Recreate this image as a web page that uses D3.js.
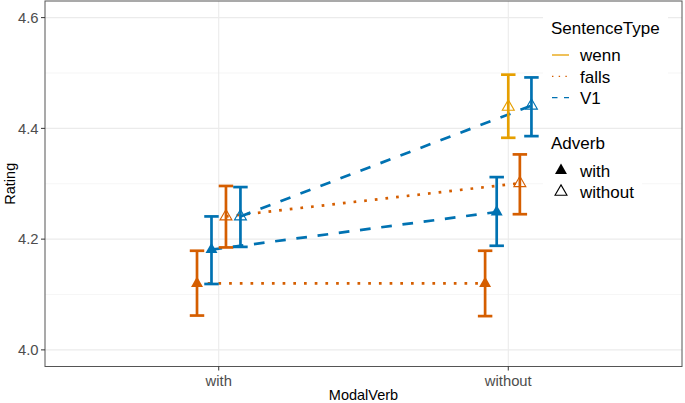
<!DOCTYPE html>
<html>
<head>
<meta charset="utf-8">
<script src="https://cdn.jsdelivr.net/npm/d3@7"></script>
<style>
body{margin:0;background:#fff}
svg{font-family:"Liberation Sans",Arial,Helvetica,sans-serif;display:block}
</style>
</head>
<body>
<div id="chart"></div>
<script>
const modalVerbs = ["with", "without"]
const sentenceTypes = ["wenn", "falls", "V1"]
const adverbs = ["with", "without"]

// one entry per cell that has data (wenn only exists for without/without)
const cellModal  = ["with", "with", "with", "with", "without", "without", "without", "without", "without"]
const cellType   = ["falls", "V1", "falls", "V1", "falls", "V1", "wenn", "falls", "V1"]
const cellAdverb = ["with", "with", "without", "without", "with", "with", "without", "without", "without"]
const meanRating = [4.120, 4.181, 4.241, 4.241, 4.120, 4.249, 4.439, 4.301, 4.441]
const lowerCI    = [4.062, 4.119, 4.185, 4.186, 4.061, 4.188, 4.383, 4.245, 4.386]
const upperCI    = [4.179, 4.241, 4.296, 4.294, 4.179, 4.312, 4.497, 4.353, 4.492]

const yTicks = [4.0, 4.2, 4.4, 4.6]
const yMinor = [4.1, 4.3, 4.5]
const yLimits = [4.0, 4.6]

const typeColors = ["#E69F00", "#D55E00", "#0072B2"]
const typeDash = [null, "2.7,8", "10.7,10.7"]
const typeDashKey = [null, "1.4,5.3", "5.5,6.5"]

const width = 685, height = 403
const panel = {left: 45, right: 682, top: 1, bottom: 366.5}

const rows = cellModal.map((m, i) => ({
    modal: m, type: cellType[i], adverb: cellAdverb[i],
    mean: meanRating[i], lo: lowerCI[i], hi: upperCI[i]
}))

const svg = d3.select("#chart").append("svg")
    .attr("width", width).attr("height", height)

const x = d3.scalePoint().domain(modalVerbs)
    .range([panel.left, panel.right]).padding(0.6)

const pad = (yLimits[1] - yLimits[0]) * 0.05
const y = d3.scaleLinear().domain([yLimits[0] - pad, yLimits[1] + pad])
    .range([panel.bottom, panel.top])

const color = d3.scaleOrdinal(sentenceTypes, typeColors)

// position_dodge(width = 0.2): groups ordered by Adverb then SentenceType
const dodgeWidth = 0.2
modalVerbs.forEach(m => {
    const g = rows.filter(d => d.modal === m)
        .sort((a, b) => adverbs.indexOf(a.adverb) - adverbs.indexOf(b.adverb) ||
                        sentenceTypes.indexOf(a.type) - sentenceTypes.indexOf(b.type))
    const n = g.length
    g.forEach((d, i) => { d.px = x(m) + (i - (n - 1) / 2) * (dodgeWidth / n) * x.step() })
})

// grid
const grid = svg.append("g")
grid.selectAll(".minor").data(yMinor).join("line")
    .attr("x1", panel.left).attr("x2", panel.right)
    .attr("y1", d => y(d)).attr("y2", d => y(d))
    .attr("stroke", "#F0F0F0").attr("stroke-width", 0.6)
grid.selectAll(".major").data(yTicks).join("line")
    .attr("x1", panel.left).attr("x2", panel.right)
    .attr("y1", d => y(d)).attr("y2", d => y(d))
    .attr("stroke", "#EBEBEB").attr("stroke-width", 1.1)
grid.selectAll(".vmajor").data(modalVerbs).join("line")
    .attr("x1", d => x(d)).attr("x2", d => x(d))
    .attr("y1", panel.top).attr("y2", panel.bottom)
    .attr("stroke", "#EBEBEB").attr("stroke-width", 1.1)

// lines between modal verb levels
const lineGroups = d3.groups(rows, d => d.type + "|" + d.adverb)
    .map(([k, v]) => v.sort((a, b) => modalVerbs.indexOf(a.modal) - modalVerbs.indexOf(b.modal)))
    .filter(v => v.length > 1)
svg.append("g").attr("fill", "none")
  .selectAll("path").data(lineGroups).join("path")
    .attr("d", d3.line().x(d => d.px).y(d => y(d.mean)))
    .attr("stroke", v => color(v[0].type))
    .attr("stroke-width", 2.7)
    .attr("stroke-dasharray", v => typeDash[sentenceTypes.indexOf(v[0].type)])

// error bars
const capHalf = 0.025 * x.step()
const eb = svg.append("g").selectAll("g").data(rows).join("g")
    .attr("stroke", d => color(d.type)).attr("stroke-width", 2.7)
eb.append("line")
    .attr("x1", d => d.px).attr("x2", d => d.px)
    .attr("y1", d => y(d.lo)).attr("y2", d => y(d.hi))
eb.append("line")
    .attr("x1", d => d.px - capHalf).attr("x2", d => d.px + capHalf)
    .attr("y1", d => y(d.hi)).attr("y2", d => y(d.hi))
eb.append("line")
    .attr("x1", d => d.px - capHalf).attr("x2", d => d.px + capHalf)
    .attr("y1", d => y(d.lo)).attr("y2", d => y(d.lo))

// points: filled triangle = with, open = without
const tri = d3.symbol().type(d3.symbolTriangle).size(62)
svg.append("g").selectAll("path").data(rows).join("path")
    .attr("transform", d => `translate(${d.px},${y(d.mean)})`)
    .attr("d", tri)
    .attr("fill", d => d.adverb === "with" ? color(d.type) : "none")
    .attr("stroke", d => color(d.type))
    .attr("stroke-width", d => d.adverb === "with" ? 0 : 1.1)

// panel border
svg.append("rect")
    .attr("x", panel.left).attr("y", panel.top)
    .attr("width", panel.right - panel.left).attr("height", panel.bottom - panel.top)
    .attr("fill", "none").attr("stroke", "#555").attr("stroke-width", 1)

// axes
const yAxis = svg.append("g")
yAxis.selectAll("line").data(yTicks).join("line")
    .attr("x1", panel.left - 4).attr("x2", panel.left)
    .attr("y1", d => y(d)).attr("y2", d => y(d))
    .attr("stroke", "#333").attr("stroke-width", 1)
yAxis.selectAll("text").data(yTicks).join("text")
    .attr("x", panel.left - 6.5).attr("y", d => y(d)).attr("dy", "0.36em")
    .attr("text-anchor", "end").attr("font-size", "14.8px").attr("fill", "#4D4D4D")
    .text(d3.format(".1f"))

const xAxis = svg.append("g")
xAxis.selectAll("line").data(modalVerbs).join("line")
    .attr("x1", d => x(d)).attr("x2", d => x(d))
    .attr("y1", panel.bottom).attr("y2", panel.bottom + 4)
    .attr("stroke", "#333").attr("stroke-width", 1)
xAxis.selectAll("text").data(modalVerbs).join("text")
    .attr("x", d => x(d)).attr("y", 385.5)
    .attr("text-anchor", "middle").attr("font-size", "14.8px").attr("fill", "#4D4D4D")
    .text(d => d)

svg.append("text")
    .attr("x", (panel.left + panel.right) / 2).attr("y", 400)
    .attr("text-anchor", "middle").attr("font-size", "14.5px")
    .text("ModalVerb")
svg.append("text")
    .attr("transform", `translate(15,${(panel.top + panel.bottom) / 2}) rotate(-90)`)
    .attr("text-anchor", "middle").attr("font-size", "14.5px")
    .text("Rating")

// legends, drawn inside the panel on white boxes
const leg1 = svg.append("g")
leg1.append("rect").attr("x", 543).attr("y", 7).attr("width", 125).attr("height", 118).attr("fill", "#fff")
leg1.append("text").attr("x", 551).attr("y", 34.3).attr("font-size", "17px").text("SentenceType")
const k1 = leg1.selectAll(".key").data(sentenceTypes).join("g")
    .attr("transform", (d, i) => `translate(0,${55 + i * 21.3})`)
k1.append("line").attr("x1", 552).attr("x2", 569)
    .attr("stroke", d => color(d)).attr("stroke-width", 1.3)
    .attr("stroke-dasharray", (d, i) => typeDashKey[i])
k1.append("text").attr("x", 580).attr("y", 6.3).attr("font-size", "17px").text(d => d)

const leg2 = svg.append("g")
leg2.append("rect").attr("x", 543).attr("y", 130.5).attr("width", 99).attr("height", 78).attr("fill", "#fff")
leg2.append("text").attr("x", 551).attr("y", 149.3).attr("font-size", "17px").text("Adverb")
const k2 = leg2.selectAll(".key").data(adverbs).join("g")
    .attr("transform", (d, i) => `translate(0,${170.5 + i * 21.3})`)
k2.append("path").attr("transform", "translate(561,0)").attr("d", tri)
    .attr("fill", d => d === "with" ? "#000" : "none")
    .attr("stroke", "#000").attr("stroke-width", d => d === "with" ? 0 : 1.1)
k2.append("text").attr("x", 580).attr("y", 6.3).attr("font-size", "17px").text(d => d)
</script>
</body>
</html>
